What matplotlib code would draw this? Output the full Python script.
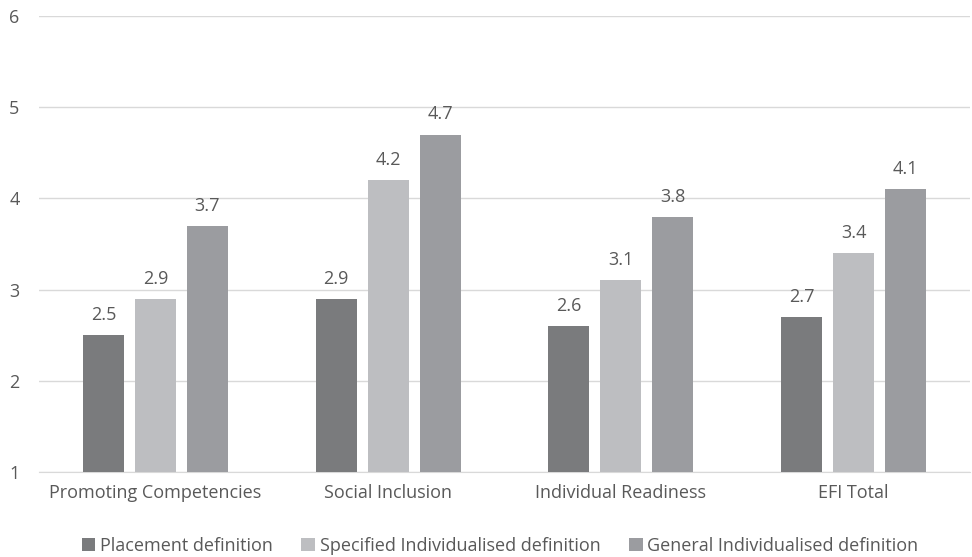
import numpy as np
import matplotlib.pyplot as plt

# data
categories = ["Promoting Competencies", "Social Inclusion", "Individual Readiness", "EFI Total"]
series_names = ["Placement definition", "Specified Individualised definition",
                "General Individualised definition"]
placement = [2.5, 2.9, 2.6, 2.7]
specified = [2.9, 4.2, 3.1, 3.4]
general = [3.7, 4.7, 3.8, 4.1]

colors = ["#7a7b7d", "#bdbec1", "#9b9ca0"]
text_col = "#595959"

plt.rcParams["font.family"] = ["Open Sans", "DejaVu Sans"]
fs = 13

fig = plt.figure(figsize=(9.72, 5.57), dpi=100)
ax = fig.add_axes([39 / 972, 1 - 472 / 557, 931 / 972, (472 - 16) / 557])

x = np.arange(len(categories))
width = 0.176
step = 0.2234
for i, (vals, name) in enumerate(zip([placement, specified, general], series_names)):
    pos = x + (i - 1) * step
    ax.bar(pos, np.array(vals) - 1, width, bottom=1, color=colors[i], label=name, zorder=3)
    for p, v in zip(pos, vals):
        ax.annotate(f"{v:.1f}", (p, v), xytext=(0, 8), textcoords="offset points",
                    ha="center", va="bottom", fontsize=fs, color=text_col)

ax.set_xlim(-0.5, len(categories) - 0.5)
ax.set_ylim(1, 6)
ax.set_yticks(range(1, 7))
ax.set_xticks(x)
ax.set_xticklabels(categories)
ax.grid(axis="y", color="#d9d9d9", lw=1, zorder=0)
for s in ["left", "right", "top"]:
    ax.spines[s].set_visible(False)
ax.spines["bottom"].set_color("#d9d9d9")
ax.tick_params(axis="y", length=0, pad=14, labelsize=fs, labelcolor=text_col)
ax.tick_params(axis="x", length=0, pad=9, labelsize=fs, labelcolor=text_col)

leg = fig.legend(loc="center", bbox_to_anchor=(500 / 972, 1 - 546 / 557), ncol=3, frameon=False,
                 fontsize=fs, handlelength=0.75, handleheight=0.75, handletextpad=0.25,
                 columnspacing=1.6)
for t in leg.get_texts():
    t.set_color(text_col)

fig.savefig("out.png", dpi=100)
